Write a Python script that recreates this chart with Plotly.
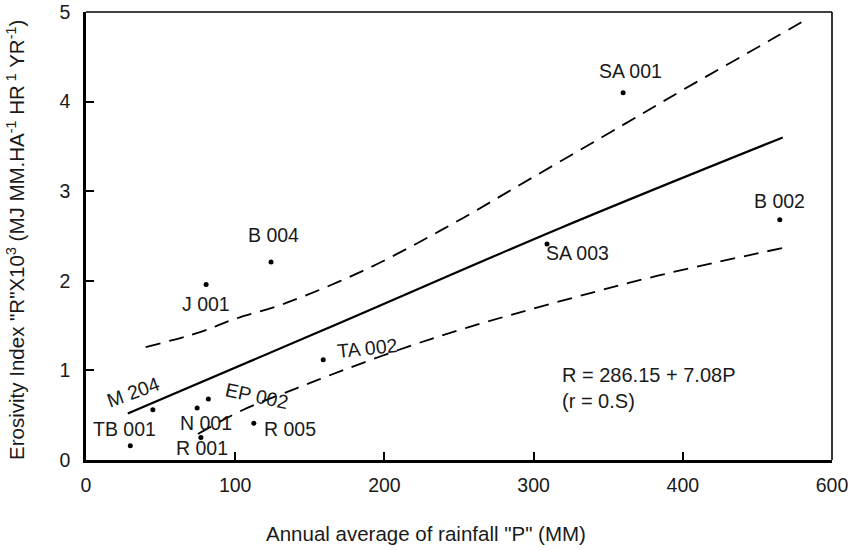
import plotly.graph_objects as go

# ---- data ----
station = ["SA 001", "B 002", "SA 003", "B 004", "J 001", "TA 002",
           "M 204", "EP 002", "N 001", "R 001", "R 005", "TB 001"]
rain_p = [360, 465, 309, 124, 80.5, 159, 44.8, 82, 74.5, 77, 112.5, 29.7]
erosivity_r = [4.10, 2.68, 2.41, 2.21, 1.96, 1.12, 0.56, 0.68, 0.58, 0.25, 0.41, 0.16]

fit_x = [28, 159, 318, 467]
fit_y = [0.52, 1.45, 2.59, 3.60]

upper_x = [40, 77, 99, 132, 188, 244, 300, 360, 400, 459, 482]
upper_y = [1.26, 1.43, 1.57, 1.74, 2.13, 2.62, 3.16, 3.74, 4.13, 4.69, 4.91]

lower_x = [75, 104, 141, 172, 215, 256, 313, 384, 468]
lower_y = [0.29, 0.55, 0.80, 1.00, 1.26, 1.48, 1.75, 2.06, 2.37]

x_tickvals = [0, 100, 200, 300, 400, 500]
x_ticktext = ["0", "100", "200", "300", "400", "600"]
y_tickvals = [0, 1, 2, 3, 4, 5]

equation = ["R = 286.15 + 7.08P", "(r = 0.S)"]

# ---- label placement (pixel shifts, angle) ----
label_style = {
    "SA 001": (7, 22, 0),
    "B 002": (0, 19, 0),
    "SA 003": (30, -9, 0),
    "B 004": (2, 27, 0),
    "J 001": (0, -20, 0),
    "TA 002": (44, 12, -6),
    "M 204": (-20, 18, -20),
    "EP 002": (49, 3, 12),
    "N 001": (9, -15, 0),
    "R 001": (1, -10, 0),
    "R 005": (36, -6, 0),
    "TB 001": (-6, 17, 0),
}

FONT = "Liberation Sans, Arial, sans-serif"
TXT = "#1a1a1a"

fig = go.Figure()
fig.add_trace(go.Scatter(x=upper_x, y=upper_y, mode="lines", line_shape="spline",
                         line=dict(color="black", width=1.8, dash="15px,9px"),
                         hoverinfo="skip"))
fig.add_trace(go.Scatter(x=lower_x, y=lower_y, mode="lines", line_shape="spline",
                         line=dict(color="black", width=1.8, dash="15px,9px"),
                         hoverinfo="skip"))
fig.add_trace(go.Scatter(x=fit_x, y=fit_y, mode="lines", line_shape="spline",
                         line=dict(color="black", width=2.2), hoverinfo="skip"))
fig.add_trace(go.Scatter(x=rain_p, y=erosivity_r, mode="markers",
                         marker=dict(color="black", size=5), text=station))

for name, px, py in zip(station, rain_p, erosivity_r):
    dx, dy, ang = label_style[name]
    fig.add_annotation(x=px, y=py, text=name, showarrow=False, xshift=dx, yshift=dy,
                       textangle=ang, xanchor="center", yanchor="middle",
                       font=dict(family=FONT, size=19.5, color=TXT))

fig.add_annotation(x=318, y=0.95, text=equation[0], showarrow=False,
                   xanchor="left", yanchor="middle",
                   font=dict(family=FONT, size=20, color=TXT))
fig.add_annotation(x=318, y=0.66, text=equation[1], showarrow=False,
                   xanchor="left", yanchor="middle",
                   font=dict(family=FONT, size=20, color=TXT))

fig.add_annotation(xref="paper", yref="paper", x=-0.094, y=0.491, textangle=-90,
                   showarrow=False, xanchor="center", yanchor="middle",
                   text='Erosivity Index "R"X10<sup>3</sup> (MJ MM.HA<sup>-1</sup> HR<sup> 1</sup> YR<sup>-1</sup>)',
                   font=dict(family=FONT, size=20.5, color=TXT))
fig.add_annotation(xref="paper", yref="paper", x=0.456, y=-0.163, showarrow=False,
                   xanchor="center", yanchor="middle",
                   text='Annual average of rainfall "P" (MM)',
                   font=dict(family=FONT, size=20.5, color=TXT))

# top and right frame lines (thinner)
fig.add_shape(type="line", xref="paper", yref="paper", x0=0, x1=1, y0=1, y1=1,
              line=dict(color="black", width=1.6))
fig.add_shape(type="line", xref="paper", yref="paper", x0=1, x1=1, y0=0, y1=1,
              line=dict(color="black", width=1.6))

fig.update_layout(
    width=850, height=550,
    margin=dict(l=86, r=18, t=12, b=90, autoexpand=False),
    paper_bgcolor="white", plot_bgcolor="white",
    showlegend=False,
    font=dict(family=FONT, size=19, color=TXT),
)
fig.update_xaxes(range=[0, 500], tickvals=x_tickvals, ticktext=x_ticktext,
                 automargin=False,
                 showgrid=False, zeroline=False, showline=True, linewidth=2.5,
                 linecolor="black", ticks="inside", ticklen=8, tickwidth=1.5,
                 tickcolor="black", ticklabelstandoff=6,
                 tickfont=dict(family=FONT, size=19.5, color=TXT))
fig.update_yaxes(range=[0, 5], tickvals=y_tickvals, automargin=False,
                 showgrid=False, zeroline=False, showline=True, linewidth=2.5,
                 linecolor="black", ticks="inside", ticklen=8, tickwidth=1.5,
                 tickcolor="black", ticklabelstandoff=9,
                 tickfont=dict(family=FONT, size=19.5, color=TXT))

# remove the default page margin so the figure sits at the window's corner
fig.write_html("out.html", config={"displayModeBar": False},
               post_script="document.body.style.margin='0';document.body.style.padding='0';")
